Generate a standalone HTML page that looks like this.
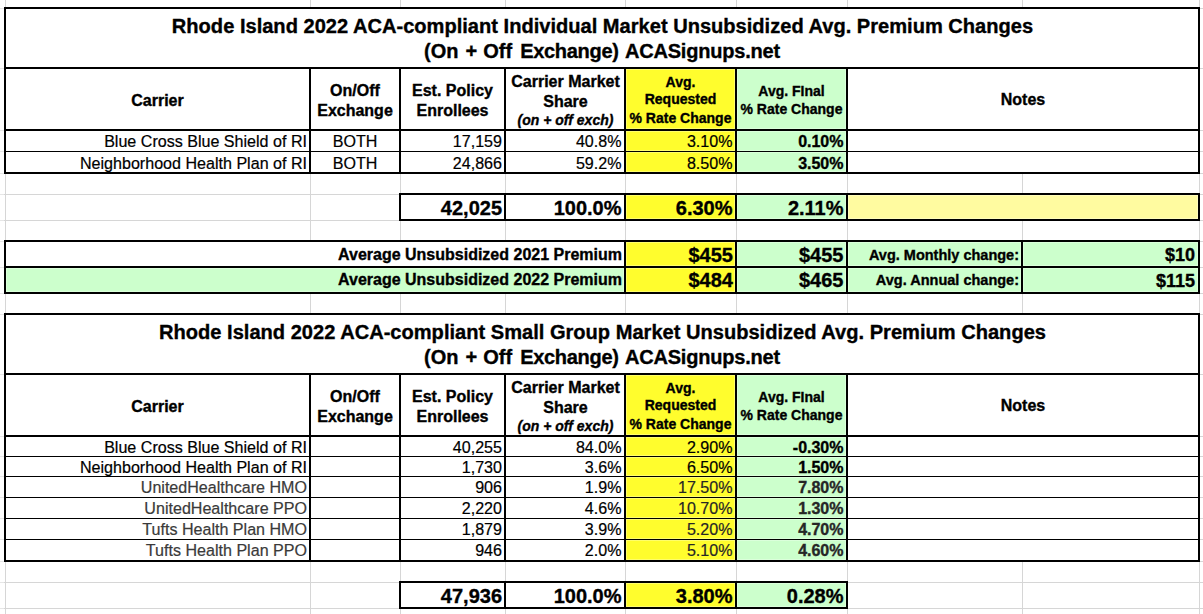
<!DOCTYPE html>
<html><head><meta charset="utf-8"><title>Rhode Island 2022 ACA Premium Changes</title><style>
html,body{margin:0;padding:0;}
body{width:1203px;height:614px;position:relative;overflow:hidden;background:#fff;font-family:"Liberation Sans",sans-serif;color:#000;}
body>div{position:absolute;}
.t{line-height:0;white-space:nowrap;-webkit-text-stroke:0.2px currentColor;}
.b{-webkit-text-stroke:0.35px currentColor;}
</style></head><body>
<div style="left:5px;top:0px;width:1px;height:614px;background:#D6D6D6"></div><div style="left:310px;top:0px;width:1px;height:614px;background:#D6D6D6"></div><div style="left:400px;top:0px;width:1px;height:614px;background:#D6D6D6"></div><div style="left:505px;top:0px;width:1px;height:614px;background:#D6D6D6"></div><div style="left:625px;top:0px;width:1px;height:614px;background:#D6D6D6"></div><div style="left:736px;top:0px;width:1px;height:614px;background:#D6D6D6"></div><div style="left:847px;top:0px;width:1px;height:614px;background:#D6D6D6"></div><div style="left:1022px;top:0px;width:1px;height:614px;background:#D6D6D6"></div><div style="left:1199px;top:0px;width:1px;height:614px;background:#D6D6D6"></div><div style="left:0px;top:8px;width:1203px;height:1px;background:#D6D6D6"></div><div style="left:0px;top:8px;width:4px;height:1px;background:#E6E6E6"></div><div style="left:0px;top:68px;width:1203px;height:1px;background:#D6D6D6"></div><div style="left:0px;top:68px;width:4px;height:1px;background:#E6E6E6"></div><div style="left:0px;top:130px;width:1203px;height:1px;background:#D6D6D6"></div><div style="left:0px;top:130px;width:4px;height:1px;background:#E6E6E6"></div><div style="left:0px;top:151px;width:1203px;height:1px;background:#D6D6D6"></div><div style="left:0px;top:151px;width:4px;height:1px;background:#E6E6E6"></div><div style="left:0px;top:173px;width:1203px;height:1px;background:#D6D6D6"></div><div style="left:0px;top:173px;width:4px;height:1px;background:#E6E6E6"></div><div style="left:0px;top:194px;width:1203px;height:1px;background:#D6D6D6"></div><div style="left:0px;top:194px;width:4px;height:1px;background:#E6E6E6"></div><div style="left:0px;top:220px;width:1203px;height:1px;background:#D6D6D6"></div><div style="left:0px;top:220px;width:4px;height:1px;background:#E6E6E6"></div><div style="left:0px;top:241px;width:1203px;height:1px;background:#D6D6D6"></div><div style="left:0px;top:241px;width:4px;height:1px;background:#E6E6E6"></div><div style="left:0px;top:267px;width:1203px;height:1px;background:#D6D6D6"></div><div style="left:0px;top:267px;width:4px;height:1px;background:#E6E6E6"></div><div style="left:0px;top:293px;width:1203px;height:1px;background:#D6D6D6"></div><div style="left:0px;top:293px;width:4px;height:1px;background:#E6E6E6"></div><div style="left:0px;top:314px;width:1203px;height:1px;background:#D6D6D6"></div><div style="left:0px;top:314px;width:4px;height:1px;background:#E6E6E6"></div><div style="left:0px;top:374px;width:1203px;height:1px;background:#D6D6D6"></div><div style="left:0px;top:374px;width:4px;height:1px;background:#E6E6E6"></div><div style="left:0px;top:436px;width:1203px;height:1px;background:#D6D6D6"></div><div style="left:0px;top:436px;width:4px;height:1px;background:#E6E6E6"></div><div style="left:0px;top:456px;width:1203px;height:1px;background:#D6D6D6"></div><div style="left:0px;top:456px;width:4px;height:1px;background:#E6E6E6"></div><div style="left:0px;top:476px;width:1203px;height:1px;background:#D6D6D6"></div><div style="left:0px;top:476px;width:4px;height:1px;background:#E6E6E6"></div><div style="left:0px;top:497px;width:1203px;height:1px;background:#D6D6D6"></div><div style="left:0px;top:497px;width:4px;height:1px;background:#E6E6E6"></div><div style="left:0px;top:518px;width:1203px;height:1px;background:#D6D6D6"></div><div style="left:0px;top:518px;width:4px;height:1px;background:#E6E6E6"></div><div style="left:0px;top:539px;width:1203px;height:1px;background:#D6D6D6"></div><div style="left:0px;top:539px;width:4px;height:1px;background:#E6E6E6"></div><div style="left:0px;top:561px;width:1203px;height:1px;background:#D6D6D6"></div><div style="left:0px;top:561px;width:4px;height:1px;background:#E6E6E6"></div><div style="left:0px;top:582px;width:1203px;height:1px;background:#D6D6D6"></div><div style="left:0px;top:582px;width:4px;height:1px;background:#E6E6E6"></div><div style="left:0px;top:608px;width:1203px;height:1px;background:#D6D6D6"></div><div style="left:0px;top:608px;width:4px;height:1px;background:#E6E6E6"></div><div style="left:4px;top:7px;width:1196px;height:167px;background:#fff"></div><div style="left:626px;top:69px;width:109px;height:60px;background:#FFFE6C"></div><div style="left:627px;top:70px;width:107px;height:58px;background:#FFFD2D"></div><div style="left:737px;top:69px;width:109px;height:60px;background:#DBFFDB"></div><div style="left:738px;top:70px;width:107px;height:58px;background:#CCFFCC"></div><div style="left:626px;top:131px;width:109px;height:20px;background:#FFFE6C"></div><div style="left:627px;top:132px;width:107px;height:18px;background:#FFFD2D"></div><div style="left:737px;top:131px;width:109px;height:20px;background:#DBFFDB"></div><div style="left:738px;top:132px;width:107px;height:18px;background:#CCFFCC"></div><div style="left:626px;top:152px;width:109px;height:20px;background:#FFFE6C"></div><div style="left:627px;top:153px;width:107px;height:18px;background:#FFFD2D"></div><div style="left:737px;top:152px;width:109px;height:20px;background:#DBFFDB"></div><div style="left:738px;top:153px;width:107px;height:18px;background:#CCFFCC"></div><div style="left:4px;top:7px;width:1196px;height:2px;background:#000"></div><div style="left:4px;top:67px;width:1196px;height:2px;background:#000"></div><div style="left:4px;top:129px;width:1196px;height:2px;background:#000"></div><div style="left:4px;top:151px;width:1196px;height:1px;background:#000"></div><div style="left:4px;top:172px;width:1196px;height:2px;background:#000"></div><div style="left:4px;top:7px;width:2px;height:167px;background:#000"></div><div style="left:1198px;top:7px;width:2px;height:167px;background:#000"></div><div style="left:309px;top:67px;width:2px;height:107px;background:#000"></div><div style="left:399px;top:67px;width:2px;height:107px;background:#000"></div><div style="left:504px;top:67px;width:2px;height:107px;background:#000"></div><div style="left:624px;top:67px;width:2px;height:107px;background:#000"></div><div style="left:735px;top:67px;width:2px;height:107px;background:#000"></div><div style="left:846px;top:67px;width:2px;height:107px;background:#000"></div><div style="left:399px;top:193px;width:801px;height:28px;background:#fff"></div><div style="left:626px;top:195px;width:109px;height:24px;background:#FFFE6C"></div><div style="left:627px;top:196px;width:107px;height:22px;background:#FFFD2D"></div><div style="left:737px;top:195px;width:109px;height:24px;background:#DBFFDB"></div><div style="left:738px;top:196px;width:107px;height:22px;background:#CCFFCC"></div><div style="left:848px;top:195px;width:350px;height:24px;background:#FFFCBC"></div><div style="left:849px;top:196px;width:348px;height:22px;background:#FFFBA0"></div><div style="left:399px;top:193px;width:801px;height:2px;background:#000"></div><div style="left:399px;top:219px;width:801px;height:2px;background:#000"></div><div style="left:399px;top:193px;width:2px;height:28px;background:#000"></div><div style="left:504px;top:193px;width:2px;height:28px;background:#000"></div><div style="left:624px;top:193px;width:2px;height:28px;background:#000"></div><div style="left:735px;top:193px;width:2px;height:28px;background:#000"></div><div style="left:846px;top:193px;width:2px;height:28px;background:#000"></div><div style="left:1198px;top:193px;width:2px;height:28px;background:#000"></div><div style="left:4px;top:240px;width:1196px;height:54px;background:#fff"></div><div style="left:6px;top:268px;width:618px;height:24px;background:#DBFFDB"></div><div style="left:7px;top:269px;width:616px;height:22px;background:#CCFFCC"></div><div style="left:626px;top:242px;width:109px;height:24px;background:#FFFE6C"></div><div style="left:627px;top:243px;width:107px;height:22px;background:#FFFD2D"></div><div style="left:737px;top:242px;width:109px;height:24px;background:#DBFFDB"></div><div style="left:738px;top:243px;width:107px;height:22px;background:#CCFFCC"></div><div style="left:848px;top:242px;width:173px;height:24px;background:#DBFFDB"></div><div style="left:849px;top:243px;width:171px;height:22px;background:#CCFFCC"></div><div style="left:1023px;top:242px;width:175px;height:24px;background:#DBFFDB"></div><div style="left:1024px;top:243px;width:173px;height:22px;background:#CCFFCC"></div><div style="left:626px;top:268px;width:109px;height:24px;background:#FFFE6C"></div><div style="left:627px;top:269px;width:107px;height:22px;background:#FFFD2D"></div><div style="left:737px;top:268px;width:109px;height:24px;background:#DBFFDB"></div><div style="left:738px;top:269px;width:107px;height:22px;background:#CCFFCC"></div><div style="left:848px;top:268px;width:173px;height:24px;background:#DBFFDB"></div><div style="left:849px;top:269px;width:171px;height:22px;background:#CCFFCC"></div><div style="left:1023px;top:268px;width:175px;height:24px;background:#DBFFDB"></div><div style="left:1024px;top:269px;width:173px;height:22px;background:#CCFFCC"></div><div style="left:4px;top:240px;width:1196px;height:2px;background:#000"></div><div style="left:4px;top:266px;width:1196px;height:2px;background:#000"></div><div style="left:4px;top:292px;width:1196px;height:2px;background:#000"></div><div style="left:4px;top:240px;width:2px;height:54px;background:#000"></div><div style="left:624px;top:240px;width:2px;height:54px;background:#000"></div><div style="left:735px;top:240px;width:2px;height:54px;background:#000"></div><div style="left:846px;top:240px;width:2px;height:54px;background:#000"></div><div style="left:1021px;top:240px;width:2px;height:54px;background:#000"></div><div style="left:1198px;top:240px;width:2px;height:54px;background:#000"></div><div style="left:4px;top:313px;width:1196px;height:249px;background:#fff"></div><div style="left:626px;top:375px;width:109px;height:60px;background:#FFFE6C"></div><div style="left:627px;top:376px;width:107px;height:58px;background:#FFFD2D"></div><div style="left:737px;top:375px;width:109px;height:60px;background:#DBFFDB"></div><div style="left:738px;top:376px;width:107px;height:58px;background:#CCFFCC"></div><div style="left:626px;top:437px;width:109px;height:19px;background:#FFFE6C"></div><div style="left:627px;top:438px;width:107px;height:17px;background:#FFFD2D"></div><div style="left:737px;top:437px;width:109px;height:19px;background:#DBFFDB"></div><div style="left:738px;top:438px;width:107px;height:17px;background:#CCFFCC"></div><div style="left:626px;top:457px;width:109px;height:19px;background:#FFFE6C"></div><div style="left:627px;top:458px;width:107px;height:17px;background:#FFFD2D"></div><div style="left:737px;top:457px;width:109px;height:19px;background:#DBFFDB"></div><div style="left:738px;top:458px;width:107px;height:17px;background:#CCFFCC"></div><div style="left:626px;top:477px;width:109px;height:20px;background:#FFFE6C"></div><div style="left:627px;top:478px;width:107px;height:18px;background:#FFFD2D"></div><div style="left:737px;top:477px;width:109px;height:20px;background:#DBFFDB"></div><div style="left:738px;top:478px;width:107px;height:18px;background:#CCFFCC"></div><div style="left:626px;top:498px;width:109px;height:20px;background:#FFFE6C"></div><div style="left:627px;top:499px;width:107px;height:18px;background:#FFFD2D"></div><div style="left:737px;top:498px;width:109px;height:20px;background:#DBFFDB"></div><div style="left:738px;top:499px;width:107px;height:18px;background:#CCFFCC"></div><div style="left:626px;top:519px;width:109px;height:20px;background:#FFFE6C"></div><div style="left:627px;top:520px;width:107px;height:18px;background:#FFFD2D"></div><div style="left:737px;top:519px;width:109px;height:20px;background:#DBFFDB"></div><div style="left:738px;top:520px;width:107px;height:18px;background:#CCFFCC"></div><div style="left:626px;top:540px;width:109px;height:20px;background:#FFFE6C"></div><div style="left:627px;top:541px;width:107px;height:18px;background:#FFFD2D"></div><div style="left:737px;top:540px;width:109px;height:20px;background:#DBFFDB"></div><div style="left:738px;top:541px;width:107px;height:18px;background:#CCFFCC"></div><div style="left:4px;top:313px;width:1196px;height:2px;background:#000"></div><div style="left:4px;top:373px;width:1196px;height:2px;background:#000"></div><div style="left:4px;top:435px;width:1196px;height:2px;background:#000"></div><div style="left:4px;top:456px;width:1196px;height:1px;background:#000"></div><div style="left:4px;top:476px;width:1196px;height:1px;background:#000"></div><div style="left:4px;top:497px;width:1196px;height:1px;background:#000"></div><div style="left:4px;top:518px;width:1196px;height:1px;background:#000"></div><div style="left:4px;top:539px;width:1196px;height:1px;background:#000"></div><div style="left:4px;top:560px;width:1196px;height:2px;background:#000"></div><div style="left:4px;top:313px;width:2px;height:249px;background:#000"></div><div style="left:1198px;top:313px;width:2px;height:249px;background:#000"></div><div style="left:309px;top:373px;width:2px;height:189px;background:#000"></div><div style="left:399px;top:373px;width:2px;height:189px;background:#000"></div><div style="left:504px;top:373px;width:2px;height:189px;background:#000"></div><div style="left:624px;top:373px;width:2px;height:189px;background:#000"></div><div style="left:735px;top:373px;width:2px;height:189px;background:#000"></div><div style="left:846px;top:373px;width:2px;height:189px;background:#000"></div><div style="left:399px;top:581px;width:449px;height:28px;background:#fff"></div><div style="left:626px;top:583px;width:109px;height:24px;background:#FFFE6C"></div><div style="left:627px;top:584px;width:107px;height:22px;background:#FFFD2D"></div><div style="left:737px;top:583px;width:109px;height:24px;background:#DBFFDB"></div><div style="left:738px;top:584px;width:107px;height:22px;background:#CCFFCC"></div><div style="left:399px;top:581px;width:449px;height:2px;background:#000"></div><div style="left:399px;top:607px;width:449px;height:2px;background:#000"></div><div style="left:399px;top:581px;width:2px;height:28px;background:#000"></div><div style="left:504px;top:581px;width:2px;height:28px;background:#000"></div><div style="left:624px;top:581px;width:2px;height:28px;background:#000"></div><div style="left:735px;top:581px;width:2px;height:28px;background:#000"></div><div style="left:846px;top:581px;width:2px;height:28px;background:#000"></div>
<div class="t b" style="top:26px;font-size:20.08px;font-weight:bold;left:2.5px;width:1200px;text-align:center;">Rhode Island 2022 ACA-compliant Individual Market Unsubsidized Avg. Premium Changes</div><div class="t b" style="top:51px;font-size:20px;font-weight:bold;left:2px;width:1200px;text-align:center;">(On<span style="margin-left:1.4px"></span> +<span style="margin-left:0.6px"></span> Off<span style="margin-left:2.5px"></span> <span style="letter-spacing:-0.3px">Exchange)</span><span style="margin-left:0.8px"></span> <span style="letter-spacing:-0.2px">ACASignups.net</span></div><div class="t b" style="top:101px;font-size:16px;font-weight:bold;left:-442.5px;width:1200px;text-align:center;">Carrier</div><div class="t b" style="top:91px;font-size:16px;font-weight:bold;left:-245px;width:1200px;text-align:center;">On/Off</div><div class="t b" style="top:111px;font-size:16px;font-weight:bold;left:-245px;width:1200px;text-align:center;">Exchange</div><div class="t b" style="top:91px;font-size:16px;font-weight:bold;left:-147.5px;width:1200px;text-align:center;">Est. Policy</div><div class="t b" style="top:111px;font-size:16px;font-weight:bold;left:-147.5px;width:1200px;text-align:center;">Enrollees</div><div class="t b" style="top:82px;font-size:16px;font-weight:bold;left:-34.5px;width:1200px;text-align:center;">Carrier Market</div><div class="t b" style="top:102px;font-size:16px;font-weight:bold;left:-34.5px;width:1200px;text-align:center;">Share</div><div class="t b" style="top:120px;font-size:14px;font-weight:bold;font-style:italic;left:-34.5px;width:1200px;text-align:center;">(on + off exch)</div><div class="t b" style="top:82px;font-size:14px;font-weight:bold;left:80.5px;width:1200px;text-align:center;">Avg.</div><div class="t b" style="top:99px;font-size:14px;font-weight:bold;left:80.5px;width:1200px;text-align:center;">Requested</div><div class="t b" style="top:118px;font-size:14px;font-weight:bold;left:80.5px;width:1200px;text-align:center;">% Rate Change</div><div class="t b" style="top:91px;font-size:14px;font-weight:bold;left:191.5px;width:1200px;text-align:center;">Avg. FInal</div><div class="t b" style="top:109px;font-size:14px;font-weight:bold;left:191.5px;width:1200px;text-align:center;">% Rate Change</div><div class="t b" style="top:100px;font-size:16px;font-weight:bold;left:423px;width:1200px;text-align:center;">Notes</div><div class="t" style="top:141px;font-size:16.08px;right:896px;">Blue Cross Blue Shield of RI</div><div class="t" style="top:141px;font-size:16.08px;left:-245px;width:1200px;text-align:center;">BOTH</div><div class="t" style="top:141px;font-size:16.08px;right:701px;">17,159</div><div class="t" style="top:141px;font-size:16.08px;right:581.5px;">40.8%</div><div class="t" style="top:141px;font-size:16.08px;right:470.5px;">3.10%</div><div class="t b" style="top:142px;font-size:16px;font-weight:bold;right:359.5px;">0.10%</div><div class="t" style="top:163px;font-size:16.08px;right:896px;">Neighborhood Health Plan of RI</div><div class="t" style="top:163px;font-size:16.08px;left:-245px;width:1200px;text-align:center;">BOTH</div><div class="t" style="top:163px;font-size:16.08px;right:701px;">24,866</div><div class="t" style="top:163px;font-size:16.08px;right:581.5px;">59.2%</div><div class="t" style="top:163px;font-size:16.08px;right:470.5px;">8.50%</div><div class="t b" style="top:164px;font-size:16px;font-weight:bold;right:359.5px;">3.50%</div><div class="t b" style="top:208px;font-size:20px;font-weight:bold;right:701px;">42,025</div><div class="t b" style="top:208px;font-size:20px;font-weight:bold;right:581.5px;">100.0%</div><div class="t b" style="top:208px;font-size:20px;font-weight:bold;right:470.5px;">6.30%</div><div class="t b" style="top:208px;font-size:20px;font-weight:bold;right:359.5px;">2.11%</div><div class="t b" style="top:255px;font-size:16px;font-weight:bold;right:581px;">Average Unsubsidized 2021 Premium</div><div class="t b" style="top:280px;font-size:16px;font-weight:bold;right:581px;">Average Unsubsidized 2022 Premium</div><div class="t b" style="top:255px;font-size:20px;font-weight:bold;right:470px;">$455</div><div class="t b" style="top:280px;font-size:20px;font-weight:bold;right:470px;">$484</div><div class="t b" style="top:255px;font-size:20px;font-weight:bold;right:359.5px;">$455</div><div class="t b" style="top:280px;font-size:20px;font-weight:bold;right:359.5px;">$465</div><div class="t b" style="top:255px;font-size:14.5px;font-weight:bold;right:184px;">Avg. Monthly change:</div><div class="t b" style="top:280px;font-size:14.5px;font-weight:bold;right:184px;">Avg. Annual change:</div><div class="t b" style="top:255px;font-size:18px;font-weight:bold;right:8px;">$10</div><div class="t b" style="top:281px;font-size:18px;font-weight:bold;right:8px;">$115</div><div class="t b" style="top:332px;font-size:20.08px;font-weight:bold;left:2.5px;width:1200px;text-align:center;">Rhode Island 2022 ACA-compliant Small Group Market Unsubsidized Avg. Premium Changes</div><div class="t b" style="top:357px;font-size:20px;font-weight:bold;left:2px;width:1200px;text-align:center;">(On<span style="margin-left:1.4px"></span> +<span style="margin-left:0.6px"></span> Off<span style="margin-left:2.5px"></span> <span style="letter-spacing:-0.3px">Exchange)</span><span style="margin-left:0.8px"></span> <span style="letter-spacing:-0.2px">ACASignups.net</span></div><div class="t b" style="top:407px;font-size:16px;font-weight:bold;left:-442.5px;width:1200px;text-align:center;">Carrier</div><div class="t b" style="top:397px;font-size:16px;font-weight:bold;left:-245px;width:1200px;text-align:center;">On/Off</div><div class="t b" style="top:417px;font-size:16px;font-weight:bold;left:-245px;width:1200px;text-align:center;">Exchange</div><div class="t b" style="top:397px;font-size:16px;font-weight:bold;left:-147.5px;width:1200px;text-align:center;">Est. Policy</div><div class="t b" style="top:417px;font-size:16px;font-weight:bold;left:-147.5px;width:1200px;text-align:center;">Enrollees</div><div class="t b" style="top:388px;font-size:16px;font-weight:bold;left:-34.5px;width:1200px;text-align:center;">Carrier Market</div><div class="t b" style="top:408px;font-size:16px;font-weight:bold;left:-34.5px;width:1200px;text-align:center;">Share</div><div class="t b" style="top:426px;font-size:14px;font-weight:bold;font-style:italic;left:-34.5px;width:1200px;text-align:center;">(on + off exch)</div><div class="t b" style="top:388px;font-size:14px;font-weight:bold;left:80.5px;width:1200px;text-align:center;">Avg.</div><div class="t b" style="top:405px;font-size:14px;font-weight:bold;left:80.5px;width:1200px;text-align:center;">Requested</div><div class="t b" style="top:424px;font-size:14px;font-weight:bold;left:80.5px;width:1200px;text-align:center;">% Rate Change</div><div class="t b" style="top:397px;font-size:14px;font-weight:bold;left:191.5px;width:1200px;text-align:center;">Avg. FInal</div><div class="t b" style="top:415px;font-size:14px;font-weight:bold;left:191.5px;width:1200px;text-align:center;">% Rate Change</div><div class="t b" style="top:406px;font-size:16px;font-weight:bold;left:423px;width:1200px;text-align:center;">Notes</div><div class="t" style="top:447px;font-size:16.08px;right:896px;">Blue Cross Blue Shield of RI</div><div class="t" style="top:447px;font-size:16.08px;right:701px;">40,255</div><div class="t" style="top:447px;font-size:16.08px;right:581.5px;">84.0%</div><div class="t" style="top:447px;font-size:16.08px;right:470.5px;">2.90%</div><div class="t b" style="top:448px;font-size:16px;font-weight:bold;right:359.5px;">-0.30%</div><div class="t" style="top:467px;font-size:16.08px;right:896px;">Neighborhood Health Plan of RI</div><div class="t" style="top:467px;font-size:16.08px;right:701px;">1,730</div><div class="t" style="top:467px;font-size:16.08px;right:581.5px;">3.6%</div><div class="t" style="top:467px;font-size:16.08px;right:470.5px;">6.50%</div><div class="t b" style="top:468px;font-size:16px;font-weight:bold;right:359.5px;">1.50%</div><div class="t" style="top:487px;font-size:16.08px;color:#3a3a3a;right:896px;">UnitedHealthcare HMO</div><div class="t" style="top:487px;font-size:16.08px;right:701px;">906</div><div class="t" style="top:487px;font-size:16.08px;right:581.5px;">1.9%</div><div class="t" style="top:487px;font-size:16.08px;color:#262626;right:470.5px;">17.50%</div><div class="t b" style="top:488px;font-size:16px;font-weight:bold;color:#262626;right:359.5px;">7.80%</div><div class="t" style="top:508px;font-size:16.08px;color:#3a3a3a;right:896px;">UnitedHealthcare PPO</div><div class="t" style="top:508px;font-size:16.08px;right:701px;">2,220</div><div class="t" style="top:508px;font-size:16.08px;right:581.5px;">4.6%</div><div class="t" style="top:508px;font-size:16.08px;color:#262626;right:470.5px;">10.70%</div><div class="t b" style="top:509px;font-size:16px;font-weight:bold;color:#262626;right:359.5px;">1.30%</div><div class="t" style="top:529px;font-size:16.08px;color:#3a3a3a;right:896px;">Tufts Health Plan HMO</div><div class="t" style="top:529px;font-size:16.08px;right:701px;">1,879</div><div class="t" style="top:529px;font-size:16.08px;right:581.5px;">3.9%</div><div class="t" style="top:529px;font-size:16.08px;color:#262626;right:470.5px;">5.20%</div><div class="t b" style="top:530px;font-size:16px;font-weight:bold;color:#262626;right:359.5px;">4.70%</div><div class="t" style="top:550px;font-size:16.08px;color:#3a3a3a;right:896px;">Tufts Health Plan PPO</div><div class="t" style="top:550px;font-size:16.08px;right:701px;">946</div><div class="t" style="top:550px;font-size:16.08px;right:581.5px;">2.0%</div><div class="t" style="top:550px;font-size:16.08px;color:#262626;right:470.5px;">5.10%</div><div class="t b" style="top:551px;font-size:16px;font-weight:bold;color:#262626;right:359.5px;">4.60%</div><div class="t b" style="top:596px;font-size:20px;font-weight:bold;right:701px;">47,936</div><div class="t b" style="top:596px;font-size:20px;font-weight:bold;right:581.5px;">100.0%</div><div class="t b" style="top:596px;font-size:20px;font-weight:bold;right:470.5px;">3.80%</div><div class="t b" style="top:596px;font-size:20px;font-weight:bold;right:359.5px;">0.28%</div>
</body></html>
